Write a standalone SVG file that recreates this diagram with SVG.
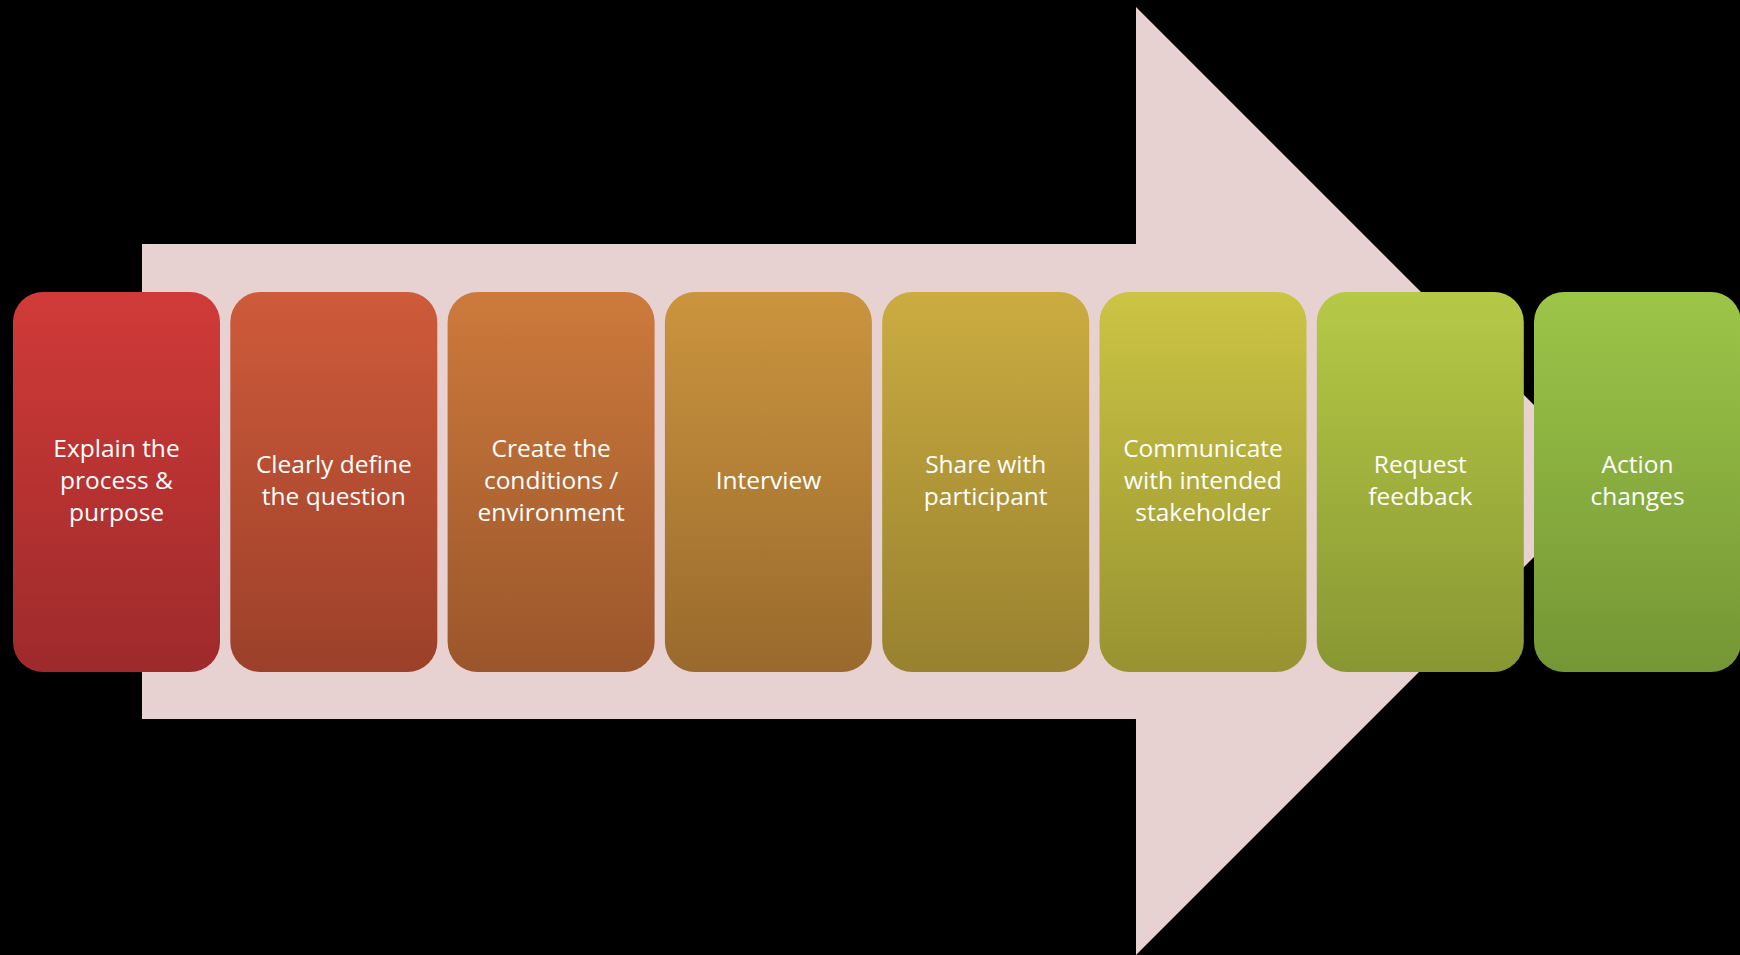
<svg xmlns="http://www.w3.org/2000/svg" width="1740" height="955" viewBox="0 0 1740 955">
<style>
.box{stroke:none}
.lbl{font-family:"Open Sans","Liberation Sans",Arial,sans-serif;font-size:24.5px;fill:#ffffff;text-anchor:middle}
</style>
<defs>
<linearGradient id="g1" x1="0" y1="0" x2="0" y2="1"><stop offset="0" stop-color="#D03B38"/><stop offset="1" stop-color="#9E2A2B"/></linearGradient>
<linearGradient id="g2" x1="0" y1="0" x2="0" y2="1"><stop offset="0" stop-color="#CE5B3A"/><stop offset="1" stop-color="#9C402A"/></linearGradient>
<linearGradient id="g3" x1="0" y1="0" x2="0" y2="1"><stop offset="0" stop-color="#CD7A3C"/><stop offset="1" stop-color="#9A562B"/></linearGradient>
<linearGradient id="g4" x1="0" y1="0" x2="0" y2="1"><stop offset="0" stop-color="#CB943E"/><stop offset="1" stop-color="#996A2D"/></linearGradient>
<linearGradient id="g5" x1="0" y1="0" x2="0" y2="1"><stop offset="0" stop-color="#CBAC41"/><stop offset="1" stop-color="#98812F"/></linearGradient>
<linearGradient id="g6" x1="0" y1="0" x2="0" y2="1"><stop offset="0" stop-color="#CBC444"/><stop offset="1" stop-color="#989331"/></linearGradient>
<linearGradient id="g7" x1="0" y1="0" x2="0" y2="1"><stop offset="0" stop-color="#B6C946"/><stop offset="1" stop-color="#899733"/></linearGradient>
<linearGradient id="g8" x1="0" y1="0" x2="0" y2="1"><stop offset="0" stop-color="#9CC548"/><stop offset="1" stop-color="#759635"/></linearGradient>
</defs>
<rect x="0" y="0" width="1740" height="955" fill="#000000"/>
<g id="arrow">
<polygon points="142,244 1136,244 1136,7 1610,481 1136,955 1136,719 142,719" fill="#E8D1D1"/>
</g>
<g id="connectors"></g>
<g id="n1"><rect class="box" x="13" y="292" width="207" height="380" rx="30" fill="url(#g1)"/>
<text class="lbl" x="116.5" y="457">Explain the</text><text class="lbl" x="116.5" y="489">process &amp;</text><text class="lbl" x="116.5" y="521">purpose</text></g>
<g id="n2"><rect class="box" x="230.3" y="292" width="207" height="380" rx="30" fill="url(#g2)"/>
<text class="lbl" x="333.8" y="473">Clearly define</text><text class="lbl" x="333.8" y="505">the question</text></g>
<g id="n3"><rect class="box" x="447.6" y="292" width="207" height="380" rx="30" fill="url(#g3)"/>
<text class="lbl" x="551.1" y="457">Create the</text><text class="lbl" x="551.1" y="489">conditions /</text><text class="lbl" x="551.1" y="521">environment</text></g>
<g id="n4"><rect class="box" x="664.9" y="292" width="207" height="380" rx="30" fill="url(#g4)"/>
<text class="lbl" x="768.4" y="489">Interview</text></g>
<g id="n5"><rect class="box" x="882.2" y="292" width="207" height="380" rx="30" fill="url(#g5)"/>
<text class="lbl" x="985.7" y="473">Share with</text><text class="lbl" x="985.7" y="505">participant</text></g>
<g id="n6"><rect class="box" x="1099.5" y="292" width="207" height="380" rx="30" fill="url(#g6)"/>
<text class="lbl" x="1203" y="457">Communicate</text><text class="lbl" x="1203" y="489">with intended</text><text class="lbl" x="1203" y="521">stakeholder</text></g>
<g id="n7"><rect class="box" x="1316.8" y="292" width="207" height="380" rx="30" fill="url(#g7)"/>
<text class="lbl" x="1420.3" y="473">Request</text><text class="lbl" x="1420.3" y="505">feedback</text></g>
<g id="n8"><rect class="box" x="1534" y="292" width="207" height="380" rx="30" fill="url(#g8)"/>
<text class="lbl" x="1637.5" y="473">Action</text><text class="lbl" x="1637.5" y="505">changes</text></g>
</svg>
